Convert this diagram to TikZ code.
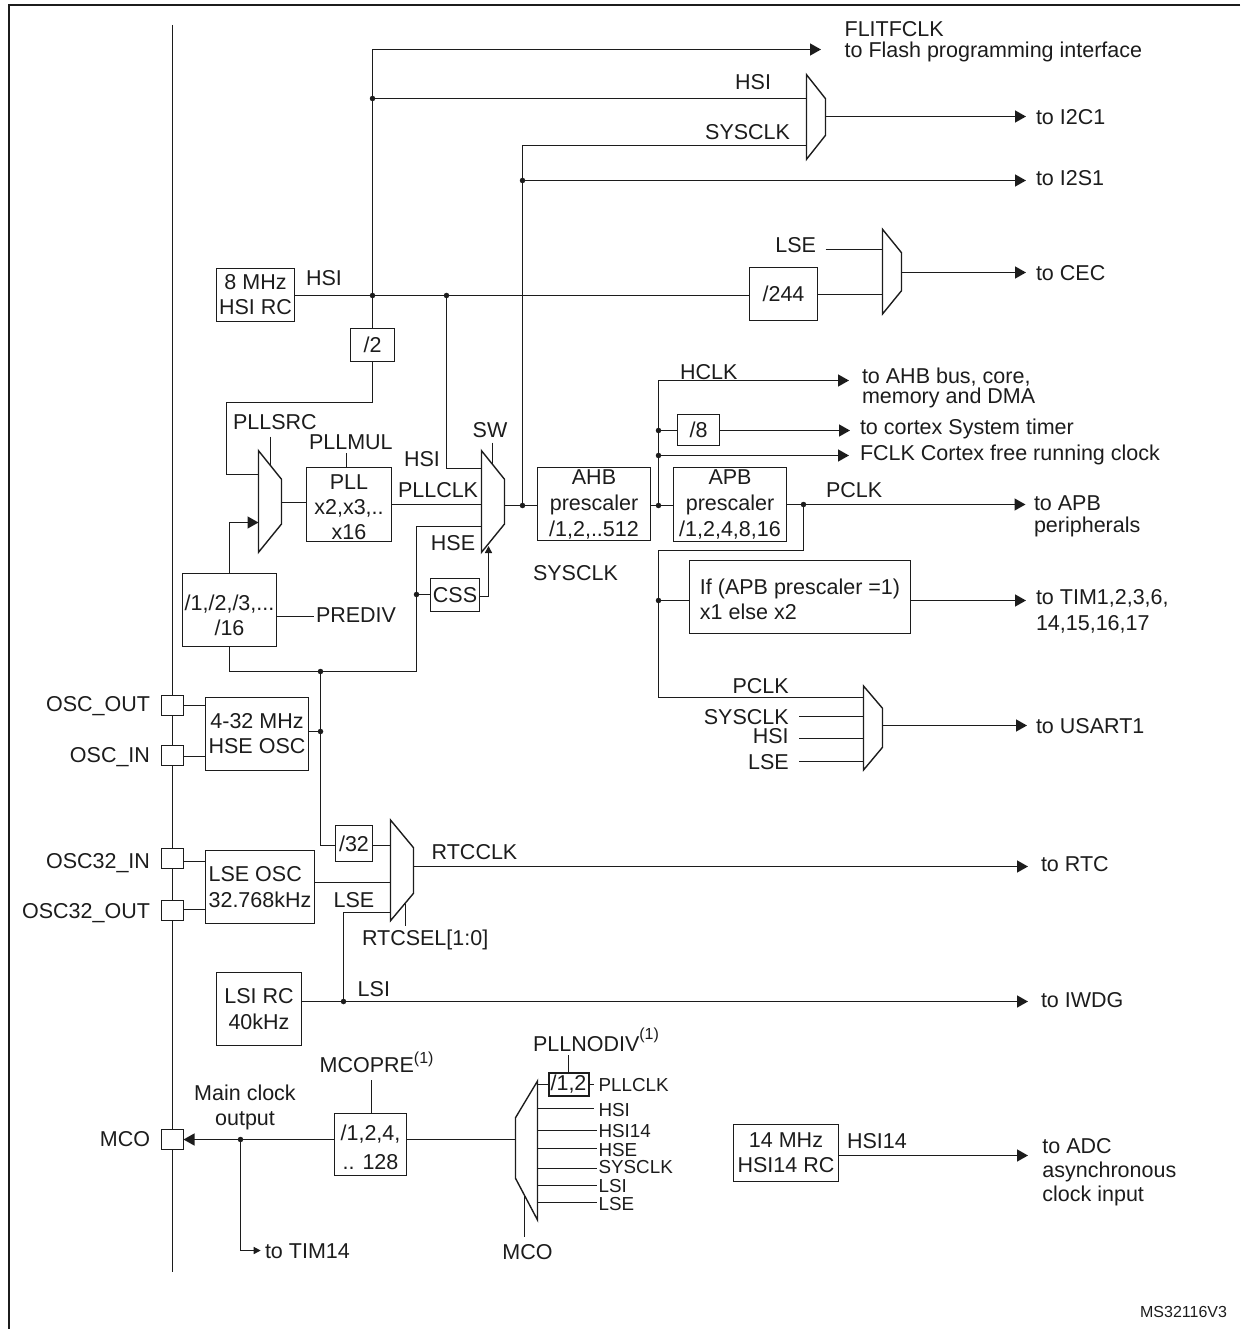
\documentclass[tikz,border=0pt]{standalone}
\usepackage{fontspec}
\setmainfont{Liberation Sans}
\usetikzlibrary{arrows.meta}
\definecolor{ink}{HTML}{1C1C1C}
\newcommand{\fnt}[1]{\fontsize{21.5}{#1}\selectfont}
\tikzset{
  wire/.style={draw=ink,line width=1.4pt,line join=miter},
  arr/.style={wire,-{Triangle[length=11pt,width=12pt]}},
  arrs/.style={wire,-{Triangle[length=7pt,width=7pt]}},
  box/.style={draw=ink,line width=1.4pt,inner sep=0pt,outer sep=0pt,align=center,text=ink,font=\fnt{25}},
  padbox/.style={draw=ink,line width=1.4pt,fill=white,inner sep=0pt,outer sep=0pt,minimum width=22pt,minimum height=20pt},
  jdot/.style={circle,fill=ink,inner sep=0pt,outer sep=0pt,minimum size=5.5pt},
  lbl/.style={inner sep=0pt,outer sep=0pt,text=ink,font=\fnt{25},text height=15.4pt,text depth=0pt},
  lbs/.style={inner sep=0pt,outer sep=0pt,text=ink,font=\fontsize{18.8}{22}\selectfont,text height=13.5pt,text depth=0pt,anchor=west},
  ml/.style={inner sep=0pt,outer sep=0pt,text=ink,align=left,anchor=north west},
}
\newcommand{\bxt}[7][]{\node[box,minimum width={#5-#3},minimum height={#6-#4},#1] (#2) at ({(#3+#5)/2},{(#4+#6)/2}) {#7};}
\newcommand{\lb}[5][west]{\node[lbl,anchor=#1] (#2) at (#3,#4) {#5};}
\newcommand{\muxr}[7]{\draw[wire] (#2,#3) -- (#5,#6) -- (#5,#7) -- (#2,#4) -- cycle;
  \coordinate (#1-l) at (#2,{(#3+#4)/2}); \coordinate (#1-r) at (#5,{(#3+#4)/2});}
\newcommand{\oneup}[1]{\raisebox{#1}{\fontsize{16}{16}\selectfont (1)}}
\begin{document}
\begin{tikzpicture}[x=1pt,y=-1pt]
\useasboundingbox (0,0) rectangle (1240,1329);
% frame
\coordinate (frTR) at (1240,5); \coordinate (frTL) at (9,5); \coordinate (frBL) at (9,1329);
\draw[draw=ink,line width=2.2pt] (frTR) -- (frTL) -- (frBL);
% pin bus
\coordinate (busT) at (172.5,25); \coordinate (busB) at (172.5,1272);
\draw[draw=ink,line width=1.2pt] (busT) -- (busB);
\node[padbox] (padA) at (172.5,705.5) {};
\node[padbox] (padB) at (172.5,755.5) {};
\node[padbox] (padC) at (172.5,858.5) {};
\node[padbox] (padD) at (172.5,910.5) {};
\node[padbox] (padM) at (172.5,1139.5) {};
% boxes
\bxt{hsirc}{216.5}{268.5}{294.5}{321.5}{8 MHz\\HSI RC}
\bxt{b2}{350.5}{328.5}{394.5}{361.5}{/2}
\bxt{b244}{749.5}{267.5}{817.5}{320.5}{/244}
\bxt{pll}{306.5}{467.5}{391.5}{541.5}{\rule{0pt}{20pt}PLL\\x2,x3,..\\x16}
\bxt{prediv}{182.5}{573.5}{276.5}{646.5}{\rule{0pt}{25.4pt}/1,/2,/3,...\\/16}
\bxt{css}{430.5}{578.5}{479.5}{611.5}{CSS}
\bxt[font=\fnt{26}]{ahb}{537.5}{467.5}{650.5}{540.5}{AHB\\prescaler\\/1,2,..512}
\bxt[font=\fnt{26}]{apb}{673.5}{467.5}{786.5}{541.5}{APB\\prescaler\\/1,2,4,8,16}
\bxt{b8}{677.5}{414.5}{719.5}{445.5}{/8}
\bxt[align=left]{ifb}{689.5}{560.5}{910.5}{633.5}{\rule{0pt}{19.4pt}If (APB prescaler =1)\\x1 else x2}
\bxt{hse}{205.5}{697.5}{308.5}{770.5}{4-32 MHz\\HSE OSC}
\bxt[align=left,font=\fnt{26.5}]{lse}{205.5}{850.5}{314.5}{923.5}{LSE OSC\\32.768kHz}
\bxt{b32}{335.5}{825.5}{372.5}{861.5}{/32}
\bxt[font=\fnt{26.5}]{lsi}{216.5}{972.5}{301.5}{1045.5}{LSI RC\\40kHz}
\bxt[font=\fnt{28.7}]{mcob}{334.5}{1113.5}{406.5}{1175.5}{\rule{0pt}{21.4pt}/1,2,4,\\.. 128}
\bxt[line width=2pt]{pn}{548.5}{1072.5}{588.5}{1095.5}{/1,2}
\bxt{hsib}{733.5}{1124.5}{838.5}{1181.5}{14 MHz\\HSI14 RC}
% muxes
\muxr{i2cm}{806.5}{74.7}{159.3}{825.5}{98.7}{135.3}
\muxr{cecm}{882.5}{229.3}{314}{901.5}{252.7}{290.7}
\muxr{pllm}{258.5}{450.7}{552.3}{281.5}{479.3}{524}
\muxr{swm}{481.5}{450.7}{552.3}{504.5}{479.3}{524}
\muxr{usm}{863.5}{686}{770}{882.5}{708.3}{747.3}
\muxr{rtcm}{390.5}{820}{920.7}{413.5}{847.7}{893.3}
\draw[wire] (537.5,1081) -- (515.5,1117.7) -- (515.5,1178.3) -- (537.5,1220) -- cycle;
\coordinate (mcom-r) at (537.5,1150); \coordinate (mcom-l) at (515.5,1150);
% junctions
\node[jdot] (jA) at (372.5,295.5) {};
\node[jdot] (jB) at (446.5,295.5) {};
\node[jdot] (jC) at (372.5,98.5) {};
\node[jdot] (jD) at (522.5,180.5) {};
\node[jdot] (jE) at (522.5,505.5) {};
\node[jdot] (jF) at (658.5,505.5) {};
\node[jdot] (jG) at (658.5,430.5) {};
\node[jdot] (jH) at (658.5,455.5) {};
\node[jdot] (jI) at (803.5,504.5) {};
\node[jdot] (jJ) at (658.5,600.5) {};
\node[jdot] (jK) at (320.5,671.5) {};
\node[jdot] (jL) at (320.5,731.5) {};
\node[jdot] (jM) at (416.5,594.5) {};
\node[jdot] (jN) at (343.5,1001.5) {};
\node[jdot] (jO) at (240.5,1139.5) {};
% free ends
\coordinate (tFlash) at (821,49.5);
\coordinate (tI2C) at (1026,116.5);
\coordinate (i2cIn2) at (806.5,145.5);
\coordinate (tI2S) at (1026,180.5);
\coordinate (tCEC) at (1026,272.5);
\coordinate (cecIn1) at (825.5,249.5);
\coordinate (cecIn2) at (817.5,294.5);
\coordinate (tAHB) at (849,380.5);
\coordinate (tCortex) at (850,430.5);
\coordinate (tFCLK) at (849,455.5);
\coordinate (tAPB) at (1025.5,504.5);
\coordinate (tTIM) at (1026,600.5);
\coordinate (tUS) at (1027,725.5);
\coordinate (tRTC) at (1028,866.5);
\coordinate (tIWDG) at (1028,1001.5);
\coordinate (tADC) at (1028,1155.5);
\coordinate (tTim) at (260.7,1250.5);
\coordinate (cPllsrc) at (226.5,402.5);
\coordinate (pllIn1) at (258.5,474.5);
\coordinate (pllIn2) at (258.5,522.5);
\coordinate (pllIn) at (306.5,502.5);
\coordinate (swIn1) at (481.5,468.5);
\coordinate (hseC) at (416.5,671.5);
\coordinate (hseD) at (416.5,526.5);
\coordinate (swIn3) at (481.5,526.5);
\coordinate (swSel) at (488.5,546);
\coordinate (cssOut) at (479.5,596.5);
\coordinate (cApb) at (658.5,550.5);
\coordinate (cUs) at (658.5,697.5);
\coordinate (usIn1) at (863.5,697.5);
\coordinate (usS) at (799,716.5);
\coordinate (usH) at (799,738.5);
\coordinate (usL) at (799,761.5);
\coordinate (b32In) at (335.5,845.5);
\coordinate (b32Out) at (372.5,845.5);
\coordinate (lseOut) at (314.5,882.5);
\coordinate (rtcIn3) at (390.5,912.5);
\coordinate (cC) at (205.5,861.5);
\coordinate (cD) at (205.5,909.5);
\coordinate (cB) at (205.5,756.5);
\coordinate (cA) at (205.5,705.5);
\coordinate (tkSrcA) at (270.5,436.7); \coordinate (tkSrcB) at (270.5,465);
\coordinate (tkMul) at (346.5,453);
\coordinate (tkSwA) at (492.5,442.7); \coordinate (tkSwB) at (492.5,464);
\coordinate (tkPre) at (276.5,616.5); \coordinate (tkPreB) at (314,616.5);
\coordinate (tkRtcA) at (405.5,904); \coordinate (tkRtcB) at (405.5,925.7);
\coordinate (tkMpre) at (371.5,1080.3);
\coordinate (tkNod) at (568.5,1055);
\coordinate (tkMcoA) at (524.5,1195); \coordinate (tkMcoB) at (524.5,1236.7);
\coordinate (mHsi) at (593.6,1108.5);
\coordinate (mH14) at (597,1130.5);
\coordinate (mHse) at (597,1148.5);
\coordinate (mSys) at (597,1168.5);
\coordinate (mLsi) at (597,1185.5);
\coordinate (mLse) at (597,1202.5);
\coordinate (mPll) at (594.3,1084.5);
% connectors: HSI tree
\draw[wire] (hsirc.east |- jA) -- (jA) -- (jB) -- (b244.west |- jA);
\draw[wire] (jA) -- (jC);
\draw[arr] (jC) |- (tFlash);
\draw[wire] (jC) -- (jC -| i2cm-l);
\draw[arr] (i2cm-r |- tI2C) -- (tI2C);
\draw[wire] (jA) -- (b2.north);
\draw[wire] (b2.south) |- (cPllsrc) |- (pllIn1);
\draw[wire] (jB) |- (swIn1);
\draw[wire] (cecIn1) -- (cecIn1 -| cecm-l);
\draw[wire] (cecIn2) -- (cecIn2 -| cecm-l);
\draw[arr] (cecm-r |- tCEC) -- (tCEC);
% PLL
\draw[arr] (prediv.north) |- (pllIn2);
\draw[wire] (pllIn -| pllm-r) -- (pllIn);
\draw[wire] (pll.east) -- (pll.east -| swm-l);
\draw[wire] (prediv.south) |- (jK) -- (hseC) -- (jM) -- (hseD) -- (swIn3);
\draw[wire] (jM) -- (css.west |- jM);
\draw[arrs] (cssOut) -| (swSel);
\draw[wire] (tkSrcA) -- (tkSrcB);
\draw[wire] (tkMul) -- (tkMul |- pll.north);
\draw[wire] (tkSwA) -- (tkSwB);
\draw[wire] (tkPre) -- (tkPreB);
% SYSCLK
\draw[wire] (swm-r |- jE) -- (jE) -- (ahb.west |- jE);
\draw[wire] (jE) -- (jD);
\draw[wire] (jD) |- (i2cIn2);
\draw[arr] (jD) -- (tI2S);
\draw[wire] (ahb.east |- jF) -- (jF) -- (apb.west |- jF);
\draw[wire] (jF) -- (jH) -- (jG);
\draw[arr] (jG) |- (tAHB);
\draw[arr] (jH) -- (tFCLK);
\draw[wire] (jG) -- (b8.west |- jG);
\draw[arr] (b8.east |- tCortex) -- (tCortex);
% APB
\draw[wire] (apb.east |- jI) -- (jI);
\draw[arr] (jI) -- (tAPB);
\draw[wire] (jI) |- (cApb) -- (jJ) -- (cUs) -- (usIn1);
\draw[wire] (jJ) -- (ifb.west |- jJ);
\draw[arr] (ifb.east |- jJ) -- (tTIM);
\draw[wire] (usS) -- (usS -| usm-l);
\draw[wire] (usH) -- (usH -| usm-l);
\draw[wire] (usL) -- (usL -| usm-l);
\draw[arr] (usm-r |- tUS) -- (tUS);
% oscillators
\draw[wire] (cA -| padA.east) -- (cA);
\draw[wire] (cB -| padB.east) -- (cB);
\draw[wire] (cC -| padC.east) -- (cC);
\draw[wire] (cD -| padD.east) -- (cD);
\draw[wire] (hse.east |- jL) -- (jL);
\draw[wire] (jK) -- (jL);
\draw[wire] (jL) |- (b32In);
\draw[wire] (b32Out) -- (b32Out -| rtcm-l);
\draw[wire] (lseOut) -- (lseOut -| rtcm-l);
\draw[arr] (rtcm-r |- tRTC) -- (tRTC);
\draw[wire] (tkRtcA) -- (tkRtcB);
\draw[wire] (lsi.east |- jN) -- (jN);
\draw[arr] (jN) -- (tIWDG);
\draw[wire] (jN) |- (rtcIn3);
% MCO
\draw[wire] (mcob.west |- jO) -- (jO);
\draw[arr] (jO) -- (padM.east);
\draw[arrs] (jO) |- (tTim);
\draw[wire] (mcob.east |- jO) -- (mcom-l |- jO);
\draw[wire] (tkMpre) -- (tkMpre |- mcob.north);
\draw[wire] (tkNod) -- (tkNod |- pn.north);
\draw[wire] (mcom-r |- mPll) -- (pn.west |- mPll);
\draw[wire] (pn.east |- mPll) -- (mPll);
\draw[wire] (mcom-r |- mHsi) -- (mHsi);
\draw[wire] (mcom-r |- mH14) -- (mH14);
\draw[wire] (mcom-r |- mHse) -- (mHse);
\draw[wire] (mcom-r |- mSys) -- (mSys);
\draw[wire] (mcom-r |- mLsi) -- (mLsi);
\draw[wire] (mcom-r |- mLse) -- (mLse);
\draw[wire] (tkMcoA) -- (tkMcoB);
\draw[arr] (hsib.east |- tADC) -- (tADC);
% labels
\node[ml,font=\fnt{21}] (lFlash) at (844.6,21.3) {FLITFCLK\\to Flash programming interface};
\lb[east]{lHsiA}{771}{82}{HSI}
\lb[east]{lSysA}{790}{132}{SYSCLK}
\lb{lI2C}{1036}{116.5}{to I2C1}
\lb{lI2S}{1036}{178}{to I2S1}
\lb[east]{lLseA}{816}{245.3}{LSE}
\lb{lCEC}{1036}{272.7}{to CEC}
\lb{lHsiB}{306}{278}{HSI}
\lb{lPllsrc}{233}{421.7}{PLLSRC}
\lb{lPllmul}{309}{441.7}{PLLMUL}
\lb[center]{lSw}{490}{430}{SW}
\lb[center]{lHsiC}{422}{459}{HSI}
\lb{lPllclk}{398}{490}{PLLCLK}
\lb[center]{lHse}{453}{542.7}{HSE}
\lb{lPrediv}{316}{615}{PREDIV}
\lb{lSysB}{533}{573}{SYSCLK}
\lb{lHclk}{680}{371.7}{HCLK}
\node[ml,font=\fnt{20}] (lAhb) at (862,368.3) {to AHB bus, core,\\memory and DMA};
\lb{lCortex}{860}{427}{to cortex System timer}
\lb{lFclk}{860}{452.7}{FCLK Cortex free running clock}
\lb{lPclkA}{826}{490}{PCLK}
\node[ml,font=\fnt{22}] (lApb) at (1034,495.6) {to APB\\peripherals};
\node[ml,font=\fnt{26}] (lTim) at (1036,589.6) {to TIM1,2,3,6,\\14,15,16,17};
\lb[east]{lPclkB}{788.7}{685.7}{PCLK}
\lb[east]{lSysC}{788.7}{716.7}{SYSCLK}
\lb[east]{lHsiD}{788.7}{736}{HSI}
\lb[east]{lLseB}{788.7}{761.7}{LSE}
\lb{lUs}{1036}{726}{to USART1}
\lb[east]{lOscA}{150}{704}{OSC\_OUT}
\lb[east]{lOscB}{150}{755}{OSC\_IN}
\lb[east]{lOscC}{150}{861}{OSC32\_IN}
\lb[east]{lOscD}{150}{911}{OSC32\_OUT}
\lb{lRtcclk}{431.7}{851.7}{RTCCLK}
\lb[center]{lLseC}{354}{900}{LSE}
\lb{lRtcsel}{362}{938}{RTCSEL[1:0]}
\lb{lRtc}{1041}{864}{to RTC}
\lb{lLsi}{357.7}{989}{LSI}
\lb{lIwdg}{1041}{999.3}{to IWDG}
\lb[east]{lMcoA}{150}{1139}{MCO}
\node[ml,align=center,anchor=north,font=\fnt{25}] (lMain) at (245,1085.3) {Main clock\\output};
\lb{lMcopre}{319.6}{1065}{MCOPRE\oneup{9pt}}
\lb{lTim14}{265}{1251}{to TIM14}
\lb{lPllnd}{533}{1044}{PLLNODIV\oneup{12pt}}
\node[lbs] (mlPll) at (598.6,1085) {PLLCLK};
\node[lbs] (mlHsi) at (598.6,1110) {HSI};
\node[lbs] (mlH14) at (598.6,1130.7) {HSI14};
\node[lbs] (mlHse) at (598.6,1149.3) {HSE};
\node[lbs] (mlSys) at (598.6,1166.7) {SYSCLK};
\node[lbs] (mlLsi) at (598.6,1185.7) {LSI};
\node[lbs] (mlLse) at (598.6,1203.3) {LSE};
\lb[center]{lMcoB}{527.5}{1251.7}{MCO}
\lb{lHsi14}{847}{1140.7}{HSI14}
\node[ml,font=\fnt{24}] (lAdc) at (1042.4,1138.3) {to ADC\\asynchronous\\clock input};
\node[lbs,anchor=east,font=\fontsize{16}{18}\selectfont,text height=11.5pt] (lRef) at (1227,1312) {MS32116V3};
\end{tikzpicture}
\end{document}
